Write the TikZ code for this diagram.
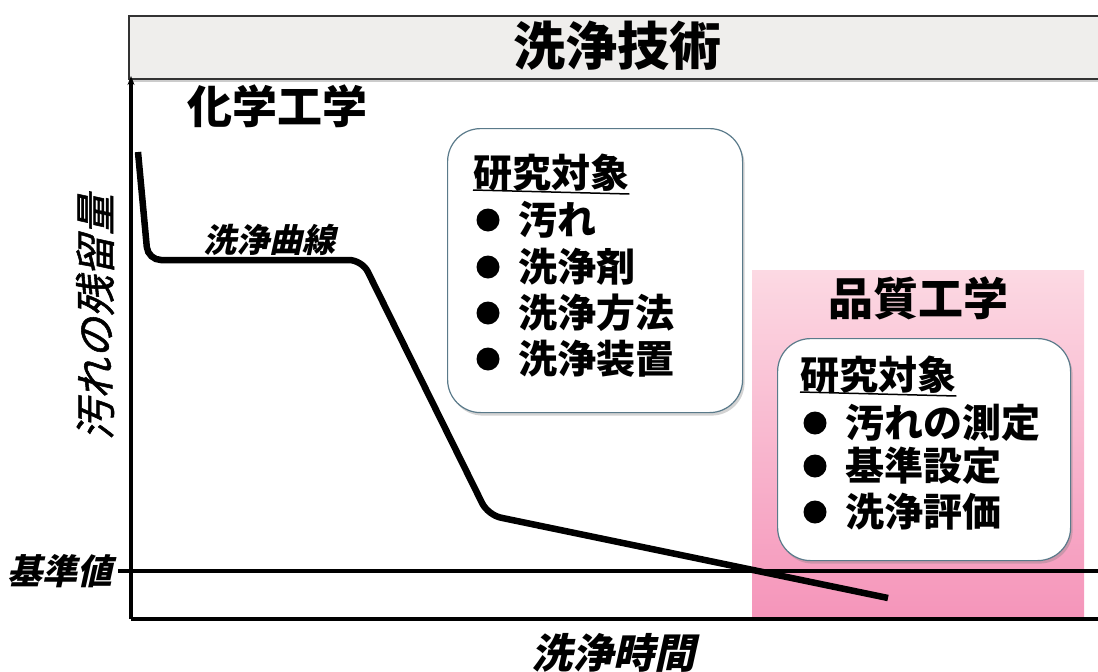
\documentclass[tikz,border=0pt]{standalone}
\usepackage{fontspec}
\setmainfont{Noto Sans CJK JP}
\newfontfamily\jp{Noto Sans CJK JP}
\newfontfamily\jpit[FakeSlant=0.22]{Noto Sans CJK JP}
\newfontfamily\jpitm[FakeSlant=0.22,FakeBold=1.3]{Noto Sans CJK JP}
\usetikzlibrary{arrows.meta,shadows}
\definecolor{titlegray}{HTML}{EFEEEC}
\definecolor{boxborder}{HTML}{5A7A8A}
\definecolor{pinktop}{HTML}{FCD9E3}
\definecolor{pinkbot}{HTML}{F595BA}
\begin{document}
\begin{tikzpicture}[x=1pt,y=-1pt,
  txt/.style={inner sep=0pt, text=black},
  big/.style={txt, font=\jp\bfseries\fontsize{52}{60}\selectfont},
  head/.style={txt, font=\jp\bfseries\fontsize{45}{52}\selectfont},
  item/.style={txt, anchor=west, font=\jp\bfseries\fontsize{39}{46}\selectfont},
  bul/.style={circle, fill=black, inner sep=0pt, minimum size=23pt},
  axlbl/.style={txt, font=\jpit\bfseries\fontsize{41}{48}\selectfont},
  rbox/.style={draw=boxborder, line width=1.2pt, fill=white, rounded corners=33pt,
    drop shadow={shadow xshift=2pt, shadow yshift=-3pt, opacity=0.35}},
  axis/.style={line width=3.2pt, black},
  curve/.style={line width=6.5pt, black, rounded corners=13pt},
]
\useasboundingbox (0,0) rectangle (1098,672);
% pink quality-engineering area
\shade[top color=pinktop, bottom color=pinkbot] (752,270) rectangle (1084,618);
% title bar
\node[draw=black!80, line width=1.5pt, fill=titlegray, minimum width=980pt, minimum height=63pt,
  anchor=north west, inner sep=0pt,
  drop shadow={shadow xshift=0pt, shadow yshift=-3pt, opacity=0.4}] (bar) at (128,15) {};
\node[big] (title) at (617,46) {洗浄技術};
% axes
\coordinate (O) at (131,619);
\coordinate (ytop) at (131,76);
\coordinate (xend) at (1100,619);
\draw[axis, -{Stealth[length=9pt,width=7pt]}] (O) -- (ytop);
\draw[axis] (O) -- (xend);
% reference line
\coordinate (r1) at (118,571);
\coordinate (r2) at (1100,571);
\draw[line width=4.5pt] (r1) -- (r2);
\node[axlbl, font=\jpit\bfseries\fontsize{35}{40}\selectfont, anchor=east] (kijun) at (113,571) {基準値};
% cleaning curve
\coordinate (c0) at (138,152);
\coordinate (c1) at (148,260);
\coordinate (c2) at (362,260);
\coordinate (c3) at (488,515);
\coordinate (c4) at (888,598);
\draw[curve] (c0) -- (c1) -- (c2) -- (c3) -- (c4);
\node[txt, anchor=west, font=\jpit\bfseries\fontsize{33}{38}\selectfont] (curvelbl) at (203,240) {洗浄曲線};
% axis labels
\node[axlbl, font=\jpitm\fontsize{41}{48}\selectfont, rotate=90] (ylbl) at (95,317) {汚れの残留量};
\node[axlbl] (xlbl) at (613,653) {洗浄時間};
% chemical engineering
\node[head] (chem) at (277,106) {化学工学};
% box 1
\node[rbox, minimum width=295pt, minimum height=284pt, anchor=north west, inner sep=0pt] (box1) at (447,128) {};
\node[item] (k1) at (473,173) {研究対象};
\draw[line width=1.5pt] (k1.south west) ++(0,-2) -- ([yshift=-2pt]k1.south east);
\node[bul] (b11) at (488,220) {};
\node[item] (t11) at (518,220) {汚れ};
\node[bul] (b12) at (488,267) {};
\node[item] (t12) at (518,267) {洗浄剤};
\node[bul] (b13) at (488,313) {};
\node[item] (t13) at (518,313) {洗浄方法};
\node[bul] (b14) at (488,359) {};
\node[item] (t14) at (518,359) {洗浄装置};
% quality engineering
\node[head] (qual) at (918,298) {品質工学};
\node[rbox, minimum width=293pt, minimum height=222pt, anchor=north west, inner sep=0pt] (box2) at (777,338) {};
\node[item] (k2) at (800,375) {研究対象};
\draw[line width=1.5pt] (k2.south west) ++(0,-2) -- ([yshift=-2pt]k2.south east);
\node[bul] (b21) at (815,423) {};
\node[item] (t21) at (845,423) {汚れの測定};
\node[bul] (b22) at (815,466) {};
\node[item] (t22) at (845,466) {基準設定};
\node[bul] (b23) at (815,512) {};
\node[item] (t23) at (845,512) {洗浄評価};
\end{tikzpicture}
\end{document}
